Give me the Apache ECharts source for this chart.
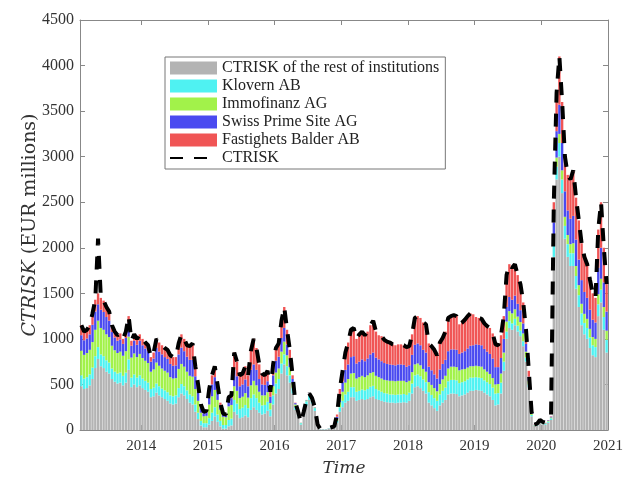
<!DOCTYPE html>
<html>
<head>
<meta charset="utf-8">
<script src="https://cdn.jsdelivr.net/npm/echarts@6/dist/echarts.min.js"></script>
<style>
  html, body { margin: 0; padding: 0; background: #fff; }
  #chart { width: 637px; height: 482px; }
</style>
</head>
<body>
<div id="chart"></div>
<script>
// half-month periods, Feb 2013 .. Dec 2020
const firstYear = 2013, firstSlot = 2, slotCount = 190;
const periods = [];
for (let k = 0; k < slotCount; k++) periods.push(firstYear + (firstSlot + k + 0.5) / 24);

const yearTicks = [2014, 2015, 2016, 2017, 2018, 2019, 2020, 2021];

// CTRISK of the rest of institutions (grey)
const restOfInstitutions = [
  480,450,460,490,560,680,780,700,680,640,620,560,530,510,520,490,520,660,470,500,470,490,
  460,440,420,360,370,410,380,360,340,320,290,280,290,360,400,380,340,300,280,200,120,50,30,30,
  60,100,150,90,40,15,15,40,50,200,170,130,140,160,140,220,250,220,190,170,180,210,150,280,
  400,450,620,720,600,520,400,220,150,60,160,270,330,290,210,50,8,8,8,15,20,25,80,200,
  250,300,320,360,360,320,330,340,330,340,360,370,340,330,320,310,305,300,300,295,300,300,305,300,
  320,400,470,480,460,430,400,300,270,240,210,270,300,330,390,400,400,395,370,380,390,410,430,430,
  440,435,430,410,390,370,330,270,280,400,650,1000,1120,1100,1150,1080,1030,920,750,470,150,45,50,80,
  65,58,80,110,1900,2750,3000,2600,2100,1900,1800,1800,1550,1350,1150,1050,1000,900,820,800,1250,1400,1100,850
];
const klovern = [
  120,115,120,120,125,130,130,130,130,125,120,115,110,110,110,105,110,115,105,110,105,110,
  105,100,100,90,95,100,100,95,95,95,90,90,90,100,105,100,95,90,90,80,70,50,45,45,
  70,90,100,80,60,40,40,70,75,130,120,100,105,115,100,130,140,130,110,100,95,100,75,100,
  110,110,110,110,100,80,60,40,30,15,30,45,50,45,30,8,2,2,2,3,5,6,20,50,
  70,90,100,110,110,100,100,105,105,110,115,115,110,105,100,95,95,90,90,90,90,90,90,85,
  90,110,130,130,130,125,125,115,115,110,110,120,130,135,145,150,150,150,145,145,145,145,145,145,
  140,140,140,135,135,135,135,130,125,120,100,80,75,70,70,65,60,55,45,30,15,5,8,12,
  10,10,13,18,120,140,150,150,140,140,140,140,140,130,130,125,120,115,110,110,130,140,140,140
];
const immofinanz = [
  270,260,265,270,280,290,290,290,290,285,280,250,235,225,230,220,235,250,220,230,225,235,
  225,220,215,190,200,230,225,220,215,215,200,195,190,210,220,215,205,205,215,170,130,90,75,80,
  150,180,190,160,120,90,85,150,150,150,140,120,120,130,115,140,150,140,120,110,105,105,70,100,
  120,115,130,140,120,90,55,20,10,3,6,10,12,10,6,1,0,0,0,1,2,3,20,55,
  100,130,140,150,155,145,150,150,145,150,150,150,145,145,145,145,145,150,150,150,150,150,145,140,
  130,125,120,120,120,115,115,110,110,110,105,115,125,130,140,145,145,145,140,140,135,130,125,125,
  125,125,125,120,115,110,105,100,100,100,100,110,110,110,105,100,95,85,65,40,12,4,5,8,
  7,6,8,10,90,100,100,100,100,100,100,110,110,110,105,100,100,95,90,90,110,120,110,100
];
const swissPrime = [
  170,160,160,170,190,200,180,200,195,190,180,150,140,135,135,130,145,150,130,140,135,145,
  140,135,130,110,120,160,155,155,150,150,145,140,140,160,180,170,165,175,185,140,100,55,35,40,
  100,130,140,100,55,25,20,70,75,180,160,130,135,150,125,170,180,170,140,120,115,120,70,120,
  130,130,150,150,120,90,45,15,7,1,3,4,6,4,3,1,0,0,0,1,2,4,25,70,
  110,140,160,180,185,165,170,180,175,185,205,215,200,195,190,185,180,180,175,175,180,180,175,170,
  170,190,215,220,220,210,210,170,160,150,140,160,170,175,190,190,190,190,180,185,195,210,225,230,
  235,235,235,225,220,220,215,190,185,170,150,160,155,150,150,140,130,110,85,45,12,3,4,6,
  5,4,6,8,170,290,320,300,280,270,280,300,290,280,260,240,230,210,190,180,290,340,270,210
];
const balder = [
  110,95,95,100,125,130,120,130,125,110,100,75,65,60,65,55,70,75,55,70,65,70,
  70,65,65,50,65,100,100,100,100,100,95,95,90,120,145,135,125,150,180,110,80,35,15,15,
  70,100,120,70,25,10,10,30,30,190,160,120,120,145,120,210,280,240,160,120,105,115,55,120,
  140,145,190,230,160,100,40,5,3,1,1,1,2,1,1,0,0,0,0,0,1,2,25,75,
  120,190,240,300,310,270,300,305,285,295,320,350,285,265,275,255,245,240,225,220,220,220,215,215,
  210,225,295,300,300,300,310,255,265,270,255,295,285,310,365,365,375,370,325,330,345,355,355,340,
  300,295,290,280,280,285,275,250,240,250,250,350,360,350,345,315,285,230,155,65,11,3,3,4,
  3,2,3,4,220,420,530,450,380,390,430,500,460,430,405,385,370,330,290,270,420,500,380,300
];
// total CTRISK (dashed line)
const ctrisk = [
  1150,1080,1100,1150,1280,1430,2100,1450,1420,1350,1300,1150,1080,1040,1060,1000,1080,1250,980,1050,1000,1050,
  1000,960,930,800,850,1000,960,930,900,880,820,800,800,950,1050,1000,930,920,950,700,500,280,200,210,
  450,600,700,500,300,180,170,360,380,850,750,600,620,700,600,870,1000,900,720,620,600,650,420,720,
  900,950,1200,1350,1100,880,600,300,200,80,200,330,400,350,250,60,10,10,10,20,30,40,170,450,
  650,850,960,1100,1120,1000,1050,1080,1040,1080,1150,1200,1080,1040,1030,990,970,960,940,930,940,940,930,910,
  920,1050,1230,1250,1230,1180,1160,950,920,880,820,960,1010,1080,1230,1250,1260,1250,1160,1180,1210,1250,1280,1270,
  1240,1230,1220,1170,1140,1120,1060,940,930,1040,1250,1700,1820,1780,1820,1700,1600,1400,1100,650,200,60,70,110,
  90,80,110,150,2500,3700,4100,3600,3000,2800,2750,2850,2550,2300,2050,1900,1820,1650,1500,1450,2200,2500,2000,1600
];

const serif = 'Liberation Serif';
const titleFont = 'DejaVu Serif';
const axisColor = '#888';

function barSeries(name, vals, color) {
  return {
    name: name,
    type: 'bar',
    stack: 'total',
    xAxisIndex: 0,
    barCategoryGap: '15%',
    itemStyle: { color: color },
    data: vals
  };
}

// value axis used only for ticks/labels (bars sit on the hidden category axis)
function yearAxis(position, withLabels) {
  return {
    type: 'value', position: position,
    min: firstYear + firstSlot / 24, max: 2021,
    axisLine: { onZero: false, lineStyle: { color: axisColor } },
    axisTick: { inside: true, length: 5, customValues: yearTicks, lineStyle: { color: axisColor } },
    axisLabel: withLabels
      ? { customValues: yearTicks, formatter: v => String(v), fontFamily: serif, fontSize: 15, color: '#333', margin: 9 }
      : { show: false },
    splitLine: { show: false }
  };
}

let myChart = echarts.init(document.getElementById('chart'));
let option = {
  animation: false,
  grid: { left: 80, right: 29, top: 20, bottom: 49 },
  legend: {
    orient: 'vertical',
    left: 165, top: 57,
    padding: [3, 6, 3, 4],
    itemWidth: 47, itemHeight: 13, itemGap: 2,
    borderColor: '#777', borderWidth: 1,
    backgroundColor: '#fff',
    textStyle: { fontFamily: serif, fontSize: 16, color: '#222' },
    data: [
      { name: 'CTRISK of the rest of institutions', icon: 'rect' },
      { name: 'Klovern AB', icon: 'rect' },
      { name: 'Immofinanz AG', icon: 'rect' },
      { name: 'Swiss Prime Site AG', icon: 'rect' },
      { name: 'Fastighets Balder AB', icon: 'rect' },
      { name: 'CTRISK', itemStyle: { color: 'rgba(0,0,0,0)', borderColor: 'rgba(0,0,0,0)', borderWidth: 0 } }
    ]
  },
  xAxis: [
    { type: 'category', show: false, boundaryGap: true, data: periods },
    Object.assign(yearAxis('bottom', true), {
      name: 'Time', nameLocation: 'middle', nameGap: 30,
      nameTextStyle: { fontFamily: titleFont, fontSize: 17, fontStyle: 'italic', color: '#333' }
    }),
    yearAxis('top', false)
  ],
  yAxis: [
    {
      type: 'value', min: 0, max: 4500, interval: 500,
      name: '{i|CTRISK} (EUR millions)', nameLocation: 'middle', nameGap: 40,
      nameMoveOverlap: false,
      nameTextStyle: {
        fontFamily: titleFont, fontSize: 19, color: '#333',
        rich: { i: { fontFamily: titleFont, fontSize: 19, fontStyle: 'italic', color: '#333' } }
      },
      axisLine: { show: true, lineStyle: { color: axisColor } },
      axisTick: { show: true, inside: true, length: 5, lineStyle: { color: axisColor } },
      axisLabel: { formatter: v => String(v), fontFamily: serif, fontSize: 16, color: '#333', margin: 6 },
      splitLine: { show: false }
    },
    {
      type: 'value', min: 0, max: 4500, interval: 500, position: 'right',
      axisLine: { show: true, lineStyle: { color: axisColor } },
      axisTick: { show: true, inside: true, length: 5, lineStyle: { color: axisColor } },
      axisLabel: { show: false },
      splitLine: { show: false }
    }
  ],
  series: [
    barSeries('CTRISK of the rest of institutions', restOfInstitutions, '#b3b3b3'),
    barSeries('Klovern AB', klovern, '#4ff2f2'),
    barSeries('Immofinanz AG', immofinanz, '#a2f24a'),
    barSeries('Swiss Prime Site AG', swissPrime, '#4a4af0'),
    barSeries('Fastighets Balder AB', balder, '#f05555'),
    {
      name: 'CTRISK',
      type: 'line',
      xAxisIndex: 0,
      symbol: 'none',
      z: 5,
      color: '#000',
      lineStyle: { color: '#000', width: 4, type: [13, 11] },
      data: ctrisk
    }
  ]
};
myChart.setOption(option);
</script>
</body>
</html>
